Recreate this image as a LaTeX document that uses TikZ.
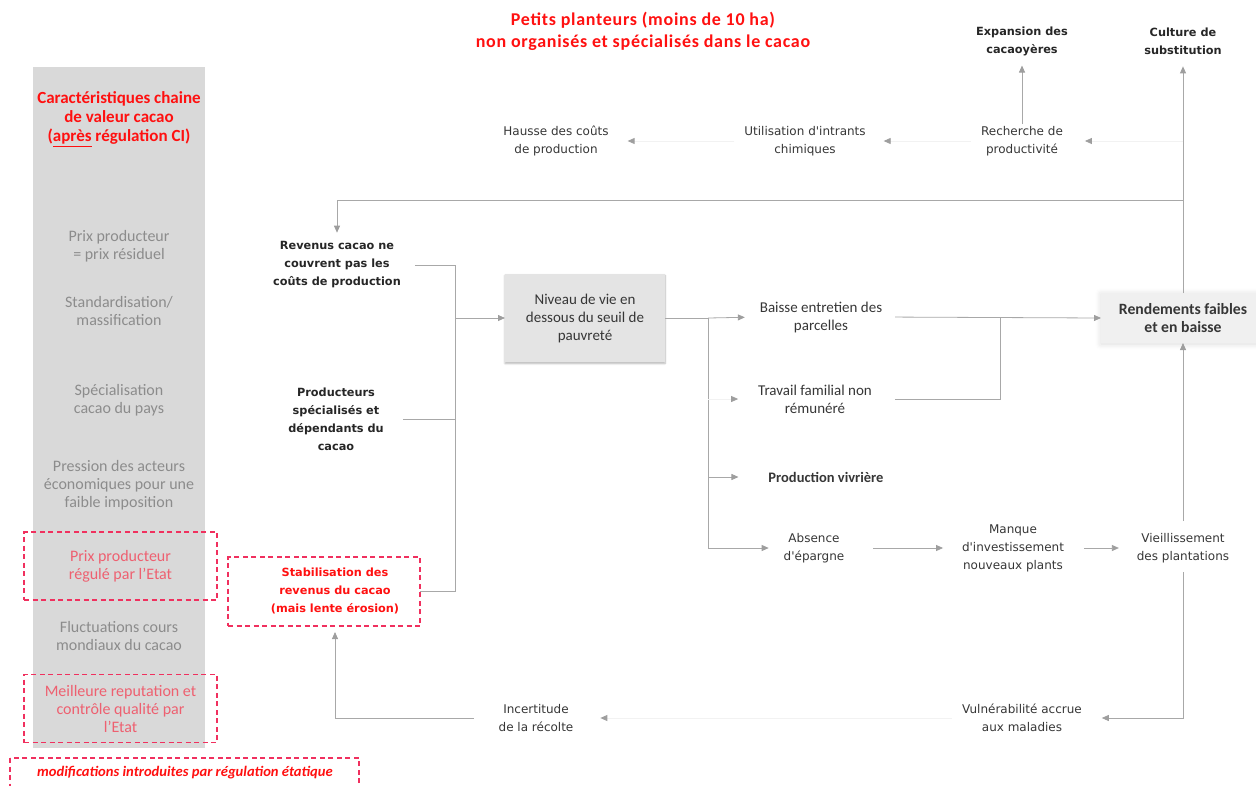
\documentclass[tikz,border=0pt]{standalone}
\usepackage{fontspec}
\setmainfont{Carlito}
\newfontfamily\widesans{DejaVu Sans}
\usetikzlibrary{arrows.meta,shadows.blur}

\definecolor{txtdark}{HTML}{363636}
\definecolor{colgray}{HTML}{8C8C8C}
\definecolor{colfill}{HTML}{D9D9D9}
\definecolor{linegray}{HTML}{A8A8A8}
\definecolor{tipgray}{HTML}{9E9E9E}
\definecolor{titlered}{HTML}{FF1010}
\definecolor{dashred}{HTML}{F0305E}
\definecolor{softred}{HTML}{EE6070}
\definecolor{boxfill}{HTML}{E4E4E4}
\definecolor{boxlight}{HTML}{F0F0F0}

\begin{document}
\begin{tikzpicture}[x=1pt,y=-1pt,
  every node/.style={inner sep=0pt, outer sep=0pt, align=center},
  calib/.style={text=txtdark, font=\fontsize{15}{18}\selectfont},
  calibb/.style={text=txtdark, font=\bfseries\fontsize{14.5}{18}\selectfont},
  wide/.style={text=txtdark, font=\widesans\fontsize{12}{18}\selectfont},
  wideb/.style={text=black!85, font=\widesans\bfseries\fontsize{11.3}{18}\selectfont},
  colitem/.style={text=colgray, font=\fontsize{16}{18}\selectfont},
  colred/.style={text=softred, font=\fontsize{16}{18}\selectfont},
  redbox/.style={draw=dashred, line width=1.3pt, dash pattern=on 5pt off 3.5pt},
  conn/.style={draw=linegray, line width=0.8pt},
  arr/.style={conn, -{Triangle[length=7pt,width=6pt,color=tipgray]}},
  faint/.style={draw=linegray!15, line width=0.8pt, -{Triangle[length=7pt,width=6pt,color=tipgray]}},
]
\useasboundingbox (0,0) rectangle (1256,785);

% left column: value chain characteristics
\fill[colfill] (33,67) rectangle (205,748);
\node[text=titlered, font=\bfseries\fontsize{17}{19}\selectfont] (colhead) at (119,119)
  {Caractéristiques chaine\\de valeur cacao\\(\underline{après} régulation CI)};
\node[colitem] (c1) at (119,246) {Prix producteur\\= prix résiduel};
\node[colitem] (c2) at (119,311) {Standardisation/\\massification};
\node[colitem] (c3) at (119,400) {Spécialisation\\cacao du pays};
\node[colitem] (c4) at (119,485) {Pression des acteurs\\économiques pour une\\faible imposition};
\node[redbox, colred, minimum width=193pt, minimum height=68pt] (c5) at (120.5,566)
  {Prix producteur\\régulé par l'Etat};
\node[colitem] (c6) at (119,636) {Fluctuations cours\\mondiaux du cacao};
\node[redbox, colred, minimum width=193pt, minimum height=68pt] (c7) at (120.5,708.5)
  {Meilleure reputation et\\contrôle qualité par\\l'Etat};

% legend
\draw[redbox] (10,758) rectangle (359,800);
\node[text=titlered, font=\bfseries\itshape\fontsize{14.6}{17}\selectfont] (legend) at (185,773)
  {modifications introduites par régulation étatique};

% title
\node[text=titlered, font=\bfseries\fontsize{18}{22}\selectfont\addfontfeatures{LetterSpace=4}] (title) at (643,31)
  {Petits planteurs (moins de 10 ha)\\non organisés et spécialisés dans le cacao};

% causal chain
\node[wide] (hausse) at (556,141) {Hausse des coûts\\de production};
\node[wide] (util) at (805,141) {Utilisation d'intrants\\chimiques};
\node[wide] (rech) at (1022,141) {Recherche de\\productivité};
\node[wideb] (expan) at (1022,41) {Expansion des\\cacaoyères};
\node[wideb] (cult) at (1183,41) {Culture de\\substitution};
\node[wideb] (reven) at (337,265) {Revenus cacao ne\\couvrent pas les\\coûts de production};
\node[wideb] (prod) at (336,419) {Producteurs\\spécialisés et\\dépendants du\\cacao};
\node[redbox, minimum width=192pt, minimum height=69pt] (stabbox) at (324,591.5) {};
\node[wideb, text=titlered] (stab) at (335,591) {Stabilisation des\\revenus du cacao\\(mais lente érosion)};
\node[calib, fill=boxfill, minimum width=160pt, minimum height=88pt,
      blur shadow={shadow xshift=0pt, shadow yshift=-1.5pt, shadow blur steps=6, shadow opacity=30}]
  (niveau) at (585,318) {Niveau de vie en\\dessous du seuil de\\pauvreté};
\node[calib] (baisse) at (821,317) {Baisse entretien des\\parcelles};
\node[calib] (trav) at (815,399) {Travail familial non\\rémunéré};
\node[calibb] (vivr) at (826,477) {Production vivrière};
\node[wide] (absen) at (814,548) {Absence\\d'épargne};
\node[wide] (manq) at (1013,548) {Manque\\d'investissement\\nouveaux plants};
\node[wide] (vieil) at (1183,548) {Vieillissement\\des plantations};
\node[wide] (vuln) at (1022,718) {Vulnérabilité accrue\\aux maladies};
\node[wide] (incert) at (536,718) {Incertitude\\de la récolte};
\node[text=txtdark, font=\bfseries\fontsize{15.7}{18}\selectfont, fill=boxlight,
      minimum width=164pt, minimum height=50pt,
      blur shadow={shadow xshift=0pt, shadow yshift=-1pt, shadow blur steps=10, shadow blur radius=6pt, shadow opacity=14}]
  (rend) at (1183,318) {Rendements faibles\\et en baisse};

% junction points
\coordinate (jtop) at (1183,200);
\coordinate (bus) at (455,318);
\coordinate (split) at (708,318);
\coordinate (tj) at (1000,318);

% connectors
\draw[arr, shorten >=12pt] (rend.north) -- (cult.south);
\draw[arr, shorten >=9pt] (jtop) -| (reven.north);
\draw[arr, shorten <=2pt, shorten >=10pt] (rech.north) -- (expan.south);
\draw[faint, shorten >=22pt] (jtop |- rech.east) -- (rech.east);
\draw[faint, shorten <=10pt, shorten >=18pt] (rech.west) -- (util.east);
\draw[faint, shorten <=10pt, shorten >=19pt] (util.west) -- (hausse.east);

\draw[conn, shorten <=14pt] (reven.east) -- (reven.east -| bus);
\draw[conn, shorten <=19pt] (prod.east) -- (prod.east -| bus);
\draw[conn] (stabbox.east) -- (stabbox.east -| bus);
\draw[conn] (reven.east -| bus) -- (stabbox.east -| bus);
\draw[arr] (bus) -- (niveau.west);

\draw[conn] (niveau.east) -- (split);
\draw[arr, shorten >=15pt] (split) -- (baisse.west);
\draw[conn] (split) -- (split |- absen.west);
\draw[faint, shorten >=20pt] (split |- trav.west) -- (trav.west);
\draw[arr, shorten >=30pt] (split |- vivr.west) -- (vivr.west);
\draw[arr, shorten >=15pt] (split |- absen.west) -- (absen.west);

\draw[arr, shorten <=29pt, shorten >=19pt] (absen.east) -- (manq.west);
\draw[arr, shorten <=20pt, shorten >=18pt] (manq.east) -- (vieil.west);
\draw[arr, shorten <=9pt, shorten >=20pt] (vieil.south) |- (vuln.east);
\draw[arr, shorten <=12pt] (vieil.north) -- (rend.south);
\draw[arr, shorten <=13pt] (baisse.east) -- (rend.west);
\draw[conn, shorten <=23pt] (trav.east) -| (tj);
\draw[faint, shorten <=10pt, shorten >=27pt] (vuln.west) -- (incert.east);
\draw[arr, shorten <=25pt, shorten >=6pt] (incert.west) -| (stab |- stabbox.south);
\end{tikzpicture}
\end{document}
